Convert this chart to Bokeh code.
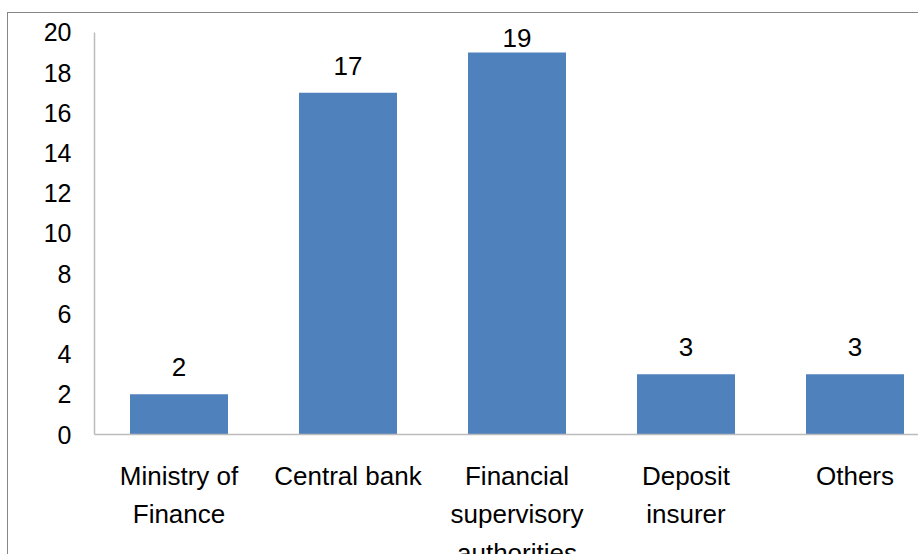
from bokeh.plotting import figure
from bokeh.models import ColumnDataSource, Range1d, FixedTicker
from bokeh.core.properties import value
from bokeh.embed import file_html
from bokeh.resources import INLINE

categories = ["Ministry of\nFinance", "Central bank", "Financial\nsupervisory\nauthorities",
              "Deposit\ninsurer", "Others"]
counts = [2, 17, 19, 3, 3]
y_ticks = [0, 2, 4, 6, 8, 10, 12, 14, 16, 18, 20]

xpos = [i + 0.5 for i in range(len(categories))]
# data labels are kept inside the plot area (clamped near the top, as in the original)
label_y = [min(c, 18.4) for c in counts]
src = ColumnDataSource(dict(x=xpos, top=counts, ly=label_y, lbl=[str(c) for c in counts]))

FONT = "Liberation Sans"

p = figure(width=911, height=557, output_backend="svg", toolbar_location=None,
           x_range=Range1d(0, 825 / 169), y_range=Range1d(0, 422 / 20.15),
           min_border_left=86, min_border_right=0, min_border_top=0, min_border_bottom=135)
p.styles = {"border-left": "1px solid #868686", "border-top": "1px solid #868686",
            "margin-top": "12px", "margin-left": "7px"}
p.outline_line_color = None
p.grid.visible = False
p.background_fill_color = "white"
p.border_fill_color = "white"

p.vbar(x="x", top="top", width=98 / 169, source=src, color="#4f81bd", line_color=None)
p.text(x="x", y="ly", text="lbl", source=src, text_align="center",
       text_baseline="alphabetic", y_offset=-27, text_font=value(FONT),
       text_font_size="26px", text_color="black")

for ax in (p.xaxis[0], p.yaxis[0]):
    ax.axis_line_color = "#bcbcbc"
    ax.axis_line_width = 1.5
    ax.major_tick_line_color = None
    ax.minor_tick_line_color = None
    ax.major_tick_out = 0
    ax.major_tick_in = 0
    ax.major_label_text_font = FONT
    ax.major_label_text_color = "black"

p.yaxis.ticker = FixedTicker(ticks=y_ticks)
p.yaxis.bounds = (0, 20)
p.yaxis.major_label_text_font_size = "25px"
p.yaxis.major_label_standoff = 23

p.xaxis.ticker = FixedTicker(ticks=xpos)
p.xaxis.major_label_overrides = {x: c for x, c in zip(xpos, categories)}
p.xaxis.major_label_text_font_size = "26px"
p.xaxis.major_label_standoff = 26
p.xaxis.major_label_text_line_height = 1.29

open("out.html", "w").write(file_html(p, INLINE))
